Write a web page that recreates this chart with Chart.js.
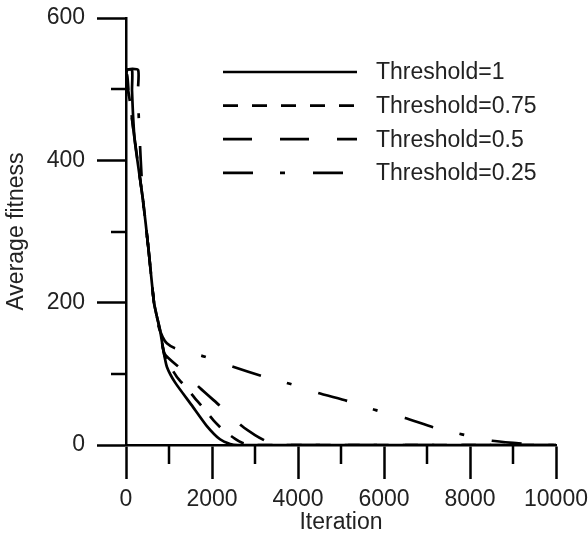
<!DOCTYPE html>
<html>
<head>
<meta charset="utf-8">
<script src="https://cdn.jsdelivr.net/npm/chart.js@4.4.1/dist/chart.umd.min.js"></script>
<style>
  html, body { margin: 0; padding: 0; background: #fff; }
  #wrap { width: 588px; height: 540px; }
</style>
</head>
<body>
<div id="wrap"><canvas id="fitnessChart" width="588" height="540"></canvas></div>
<script>
// ============================================================
// DATA
// ============================================================

const seriesLabels = ["Threshold=1", "Threshold=0.75", "Threshold=0.5", "Threshold=0.25"];

const iterT100 = [0, 15, 140, 140, 200, 395, 520, 651, 720, 790, 870, 950, 1140, 1527, 1876, 2186, 2420, 2600, 10000];
const fitT100  = [490, 527, 527, 498, 430, 344, 277, 200, 180, 162, 133, 110, 88, 56, 27, 8, 1.5, 0, 0];

const iterT075 = [0, 50, 200, 395, 520, 651, 720, 790, 900, 1180, 1410, 1600, 1800, 2030, 2260, 2530, 2700, 2840, 3000, 10000];
const fitT075  = [495, 499, 430, 344, 277, 200, 180, 162, 125, 96, 80, 66, 52, 35, 21, 9, 3, 1, 0, 0];

const iterT050 = [0, 30, 60, 200, 395, 520, 651, 720, 790, 900, 1256, 1720, 2225, 2690, 3000, 3270, 3500, 3700, 10000];
const fitT050  = [500, 520, 497, 430, 344, 277, 200, 180, 162, 128, 108, 80, 53, 27, 14, 5, 0.5, 0, 0];

const iterT025 = [0, 25, 280, 280, 300, 395, 520, 651, 750, 850, 950, 1140, 1840, 2490, 3160, 3810, 4470, 5140, 5810, 6490, 7140, 7810, 8510, 9210, 9500, 10000];
const fitT025  = [497, 527, 527, 500, 455, 344, 277, 200, 168, 152, 143, 136, 124, 110, 97, 86, 73, 62, 49, 38, 25, 15, 6, 2, 0, 0];

const xTicksMinor = [1000, 3000, 5000, 7000, 9000];
const yTicksMinor = [100, 300, 500];

// ============================================================
// HELPERS
// ============================================================

const FONT = { family: "'Liberation Sans', Arial, sans-serif", size: 23 };
const TEXT = "#222";

function toPoints(xs, ys) {
  return xs.map(function(x, i) { return { x: x, y: ys[i] }; });
}

function makeDataset(label, xs, ys, dash, dashOffset) {
  return {
    label: label,
    data: toPoints(xs, ys),
    borderColor: "#000",
    borderWidth: 2.7,
    borderDash: dash,
    borderDashOffset: dashOffset || 0,
    pointRadius: 0,
    tension: 0.2,
    fill: false
  };
}

// no automatic padding from tick labels, the plot box is set by layout.padding
function noLabelPadding(scale) {
  scale.paddingTop = 0;
  scale.paddingBottom = 0;
  scale.paddingLeft = 0;
  scale.paddingRight = 0;
}

// minor ticks + legend drawn on top
const extras = {
  id: "extras",
  afterDraw: function(chart) {
    const ctx = chart.ctx;
    const xs = chart.scales.x;
    const ys = chart.scales.y;
    const area = chart.chartArea;

    ctx.save();
    ctx.strokeStyle = "#000";
    ctx.lineWidth = 2.5;
    ctx.beginPath();
    xTicksMinor.forEach(function(v) {
      const px = Math.round(xs.getPixelForValue(v));
      ctx.moveTo(px, area.bottom);
      ctx.lineTo(px, area.bottom + 19);
    });
    yTicksMinor.forEach(function(v) {
      const py = Math.round(ys.getPixelForValue(v));
      ctx.moveTo(area.left, py);
      ctx.lineTo(area.left - 15, py);
    });
    ctx.stroke();

    // legend
    chart.data.datasets.forEach(function(ds, i) {
      const y = 72 + i * 33.6;
      ctx.setLineDash(ds.borderDash || []);
      ctx.lineDashOffset = 0;
      ctx.lineWidth = ds.borderWidth;
      ctx.beginPath();
      ctx.moveTo(223, y);
      ctx.lineTo(357, y);
      ctx.stroke();
      ctx.setLineDash([]);
      ctx.fillStyle = TEXT;
      ctx.font = FONT.size + "px " + FONT.family;
      ctx.textBaseline = "middle";
      ctx.textAlign = "left";
      ctx.fillText(ds.label, 376, y + 1);
    });
    ctx.restore();
  }
};

// ============================================================
// CHART
// ============================================================

const ctx = document.getElementById("fitnessChart").getContext("2d");

const fitnessChart = new Chart(ctx, {
  type: "line",
  data: {
    datasets: [
      makeDataset(seriesLabels[0], iterT100, fitT100, []),
      makeDataset(seriesLabels[1], iterT075, fitT075, [15, 14]),
      makeDataset(seriesLabels[2], iterT050, fitT050, [29, 28]),
      makeDataset(seriesLabels[3], iterT025, fitT025, [30, 27, 5, 28], 71)
    ]
  },
  options: {
    responsive: false,
    animation: false,
    devicePixelRatio: 1,
    layout: {
      padding: { top: 18, right: 32, left: 0, bottom: 0 },
      autoPadding: false
    },
    plugins: {
      legend: { display: false },
      tooltip: { enabled: false }
    },
    scales: {
      x: {
        type: "linear",
        min: 0,
        max: 10000,
        ticks: {
          stepSize: 2000, color: TEXT, font: FONT, padding: 7, maxRotation: 0,
          callback: function(v) { return String(v); }
        },
        grid: { drawOnChartArea: false, tickLength: 34, tickWidth: 2.5, tickColor: "#000" },
        border: { display: true, color: "#000", width: 2.5 },
        title: { display: true, text: "Iteration", color: TEXT, font: FONT, padding: { top: 0, bottom: 4 } },
        afterFit: function(scale) { scale.height = 95; noLabelPadding(scale); }
      },
      y: {
        type: "linear",
        min: 0,
        max: 600,
        ticks: {
          stepSize: 200, color: TEXT, font: FONT, padding: 12,
          callback: function(v) { return String(v); }
        },
        grid: { drawOnChartArea: false, tickLength: 29, tickWidth: 2.5, tickColor: "#000" },
        border: { display: true, color: "#000", width: 2.5 },
        title: { display: true, text: "Average fitness", color: TEXT, font: FONT, padding: { top: 3, bottom: 0 } },
        afterFit: function(scale) { scale.width = 126; noLabelPadding(scale); }
      }
    }
  },
  plugins: [extras]
});
</script>
</body>
</html>
